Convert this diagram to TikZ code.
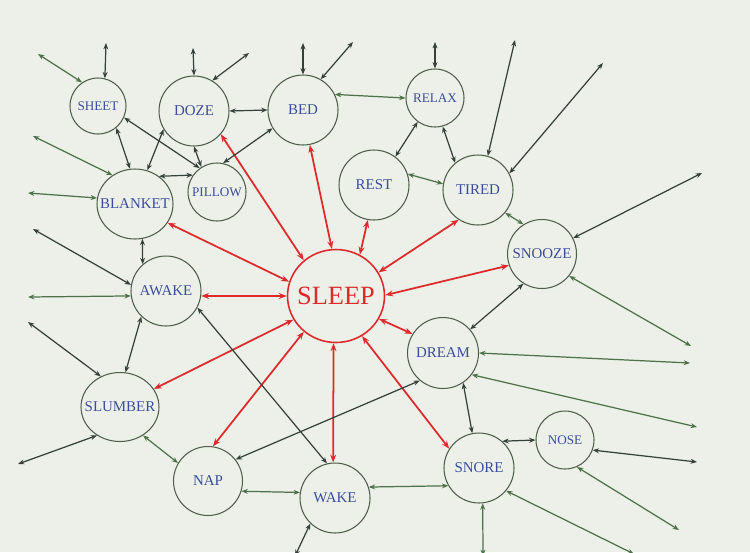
\documentclass[tikz,border=0pt]{standalone}
\usepackage{fontspec}
\setmainfont{Liberation Serif}
\usetikzlibrary{arrows.meta,shapes.geometric}
\definecolor{bg}{HTML}{EDF0E9}
\definecolor{txt}{HTML}{3A4D9C}
\definecolor{rd}{HTML}{DD2B2B}
\definecolor{dk}{HTML}{34413A}
\definecolor{gn}{HTML}{4C7248}
\definecolor{ring}{HTML}{4E5E4A}
\newcommand\nlab[1]{\makebox[0pt]{#1}}
\begin{document}
\begin{tikzpicture}[x=0.02cm,y=-0.02cm,
  word/.style={circle,draw=ring,line width=0.6pt,inner sep=0pt,text=txt,font=\fontsize{8.5}{10}\selectfont},
  small/.style={word,font=\fontsize{7.5}{9}\selectfont},
  oval/.style={word,ellipse},
  hub/.style={ellipse,draw=rd,line width=0.9pt,inner sep=0pt,text=rd,font=\fontsize{15}{18}\selectfont},
  link/.style={{Stealth[length=3.6pt,width=2.8pt]}-{Stealth[length=3.6pt,width=2.8pt]},line width=0.7pt,draw=dk},
  glink/.style={link,draw=gn},
  rlink/.style={{Stealth[length=4.5pt,width=3.4pt]}-{Stealth[length=4.5pt,width=3.4pt]},line width=1pt,draw=rd}]
\fill[bg] (0,0) rectangle (750,552);
\useasboundingbox (0,0) rectangle (750,552);

% nodes
\node[small,minimum size=1.12cm] (sheet) at (98,106) {\nlab{SHEET}};
\node[word,minimum size=1.4cm] (doze) at (194,111) {\nlab{DOZE}};
\node[word,minimum size=1.4cm] (bed) at (303,110) {\nlab{BED}};
\node[small,minimum size=1.16cm] (relax) at (435,98) {\nlab{RELAX}};
\node[word,minimum size=1.4cm] (rest) at (374,185) {\nlab{REST}};
\node[word,minimum size=1.4cm] (tired) at (478,190) {\nlab{TIRED}};
\node[word,minimum size=1.38cm] (snooze) at (542,254) {\nlab{SNOOZE}};
\node[small,minimum size=1.16cm] (pillow) at (217,192) {\nlab{PILLOW}};
\node[oval,minimum width=1.52cm,minimum height=1.4cm] (blanket) at (135,204) {\nlab{BLANKET}};
\node[word,minimum size=1.4cm] (awake) at (166,291) {\nlab{AWAKE}};
\node[hub,minimum width=1.94cm,minimum height=1.86cm] (sleep) at (336,296) {\nlab{SLEEP}};
\node[oval,minimum width=1.56cm,minimum height=1.38cm] (slumber) at (120,407) {\nlab{SLUMBER}};
\node[word,minimum size=1.38cm] (nap) at (208,481) {\nlab{NAP}};
\node[word,minimum size=1.4cm] (wake) at (335,498) {\nlab{WAKE}};
\node[word,minimum size=1.42cm] (dream) at (443,353) {\nlab{DREAM}};
\node[word,minimum size=1.4cm] (snore) at (479,468) {\nlab{SNORE}};
\node[small,minimum size=1.16cm] (nose) at (565,440) {\nlab{NOSE}};

% free ends
\coordinate (f1) at (106,43);
\coordinate (f2) at (38,54);
\coordinate (f3) at (193,48);
\coordinate (f4) at (249,53);
\coordinate (f5) at (303,43);
\coordinate (f6) at (353,42);
\coordinate (f7) at (435,42);
\coordinate (f8) at (515,40);
\coordinate (f9) at (603,63);
\coordinate (f10) at (702,173);
\coordinate (f11) at (691,346);
\coordinate (f12) at (690,363);
\coordinate (f13) at (697,427);
\coordinate (f14) at (697,462);
\coordinate (f15) at (679,530);
\coordinate (f16) at (634,554);
\coordinate (f17) at (483,556);
\coordinate (f18) at (295,556);
\coordinate (f19) at (18,464);
\coordinate (f20) at (28,322);
\coordinate (f21) at (28,297);
\coordinate (f22) at (33,229);
\coordinate (f23) at (28,193);
\coordinate (f24) at (33,136);

% red links
\draw[rlink] (sleep.132) -- (doze.-41);
\draw[rlink] (sleep.95) -- (bed.-79);
\draw[rlink] (sleep.60) -- (rest.260);
\draw[rlink] (sleep.29) -- (tired.237);
\draw[rlink] (sleep.1) -- (snooze.199);
\draw[rlink] (sleep.-28) -- (dream.148);
\draw[rlink] (sleep.-57) -- (snore.147);
\draw[rlink] (sleep.-93) -- (wake.93);
\draw[rlink] (sleep.228) -- (nap.82);
\draw[rlink] (sleep.209) -- (slumber.28);
\draw[rlink] (sleep.180) -- (awake.-8);
\draw[rlink] (sleep.163) -- (blanket.-30);

% links between words
\draw[link] (sheet.-50) -- (blanket.98);
\draw[link] (sheet.-24) -- (pillow.126);
\draw[link] (doze.211) -- (blanket.70);
\draw[link] (doze.-90) -- (pillow.122);
\draw[link] (doze.0) -- (bed.180);
\draw[link] (bed.211) -- (pillow.78);
\draw[link] (blanket.49) -- (pillow.145);
\draw[glink] (bed.26) -- (relax.180);
\draw[link] (relax.234) -- (rest.53);
\draw[link] (relax.-75) -- (tired.130);
\draw[glink] (rest.18) -- (tired.170);
\draw[glink] (tired.-40) -- (snooze.122);
\draw[link] (blanket.-78) -- (awake.131);
\draw[link] (awake.226) -- (slumber.81);
\draw[link] (awake.-28) -- (wake.103);
\draw[glink] (slumber.-51) -- (nap.149);
\draw[glink] (nap.-17) -- (wake.171);
\draw[link] (nap.38) -- (dream.230);
\draw[link] (dream.41) -- (snooze.238);
\draw[link] (dream.-56) -- (snore.101);
\draw[link] (snore.49) -- (nose.180);
\draw[glink] (wake.18) -- (snore.210);

% links to free ends
\draw[link] (sheet.76) -- (f1);
\draw[glink] (sheet.124) -- (f2);
\draw[link] (doze.90) -- (f3);
\draw[link] (doze.59) -- (f4);
\draw[link] (bed.90) -- (f5);
\draw[link] (bed.60) -- (f6);
\draw[link] (relax.90) -- (f7);
\draw[link] (tired.74) -- (f8);
\draw[link] (tired.28) -- (f9);
\draw[link] (snooze.27) -- (f10);
\draw[glink] (snooze.-39) -- (f11);
\draw[glink] (dream.0) -- (f12);
\draw[glink] (dream.-37) -- (f13);
\draw[link] (nose.-20) -- (f14);
\draw[glink] (nose.-66) -- (f15);
\draw[glink] (snore.-40) -- (f16);
\draw[glink] (snore.-84) -- (f17);
\draw[link] (wake.226) -- (f18);
\draw[link] (slumber.231) -- (f19);
\draw[link] (slumber.122) -- (f20);
\draw[glink] (awake.188) -- (f21);
\draw[link] (awake.170) -- (f22);
\draw[glink] (blanket.171) -- (f23);
\draw[glink] (blanket.128) -- (f24);
\end{tikzpicture}
\end{document}
